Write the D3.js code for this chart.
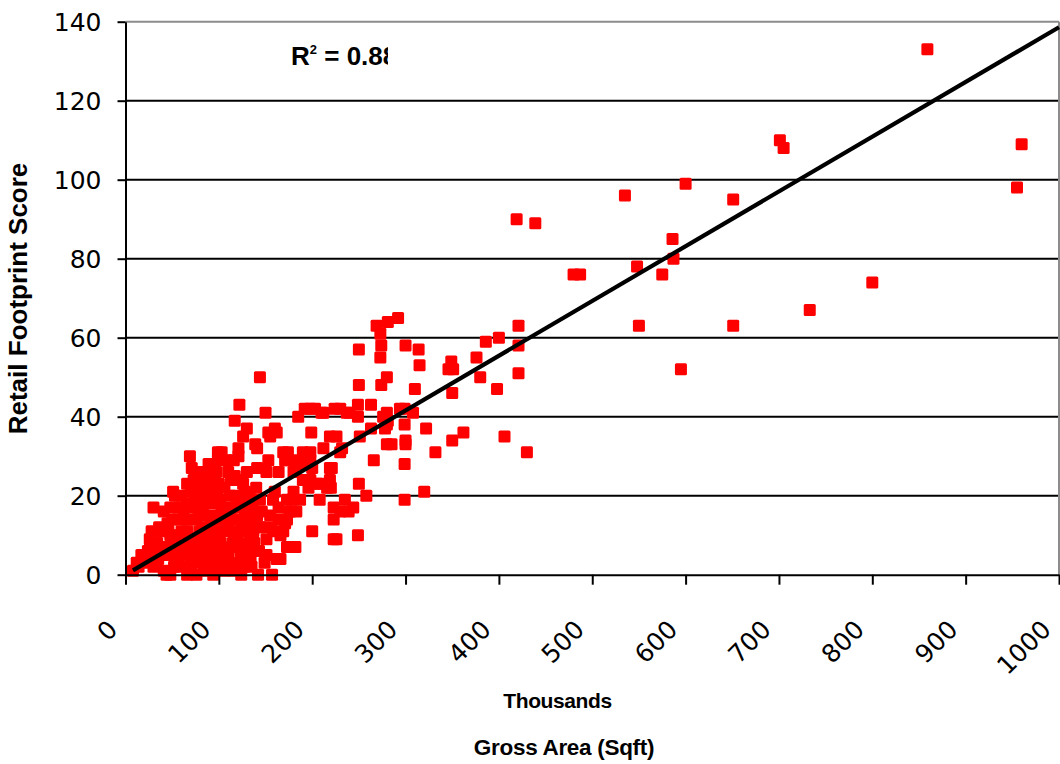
<!DOCTYPE html>
<html><head><meta charset="utf-8">
<script src="https://cdn.jsdelivr.net/npm/d3@7"></script>
<style>body{margin:0;background:#fff}</style>
</head><body>
<svg id="chart" width="1060" height="764"></svg>
<script>
// Gross area (thousands of sqft) and retail footprint score
const grossAreaK = [
  859,960,955,701,705,600,535,651,419,439,
  586,587,548,575,480,487,800,733,550,651,
  595,421,421,421,430,406,398,386,400,376,
  380,349,346,351,350,362,350,320,332,322,
  315,314,300,310,299,308,299,300,300,299,
  299,280,280,281,280,285,294,276,278,280,
  274,273,274,273,269,281,292,250,250,
  198,192,212,230,240,249,249,263,237,203,
  210,224,185,199,226,219,251,263,232,230,
  198,212,190,169,174,221,219,200,187,174,
  183,198,266,250,258,220,216,205,198,196,
  208,190,180,164,151,180,160,219,244,208,
  223,230,235,239,223,200,223,226,249,176,
  182,173,162,142,157,149,116,137,123,130,
  151,166,
  144,122,117,150,130,126,153,160,162,155,
  139,103,121,116,141,171,153,141,117,123,
  140,103,123,130,144,158,164,173,164,171,
  176,178,183,187,173,169,166,107,117,114,
  105,144,151,137,158,155,128,141,146,135,
  112,121,
  99,99,69,71,73,89,92,108,110,51,
  30,41,36,62,66,80,80,87,98,101,
  105,66,75,87,101,51,51,24,17,8,
  30,41,48,66,76,87,94,105,62,73,
  83,94,101,55,76,87,98,76,87,98,
  83,94,53,19,44,30,
  45,55,58,68,70,78,82,85,90,92,
  95,100,102,108,110,112,115,118,120,125,
  127,128,132,134,60,64,70,72,79,81,
  88,91,96,106,113,119,124,131,57,48,
  43,35,26,22,14,12,40,
  52,70,84,112,135, 40,58,91,110,128,
  34,56,68,92,115,138, 28,46,60,79,95,127,
  50,64,93,106,122, 48,70,77,110,136,
  60,75,96,118,133, 66,84,100,126,
  82,97,130, 145,156, 143, 100,118
];
const footprintScore = [
  133,109,98,110,108,99,96,95,90,89,
  85,80,78,76,76,76,74,67,63,63,
  52,63,58,51,31,35,47,59,60,55,
  50,54,52,52,46,36,34,21,31,37,
  53,57,58,47,42,41,38,34,33,28,
  19,41,38,39,33,33,42,40,37,50,
  48,55,58,61,63,64,65,57,48,
  42,42,41,42,41,43,40,43,41,42,
  41,42,40,36,35,35,35,37,32,31,
  31,32,31,31,31,27,27,27,28,29,
  29,29,29,23,20,22,22,23,24,22,
  23,24,26,26,26,21,21,24,17,19,
  17,16,19,16,14,11,9,9,10,7,
  7,7,4,0,0,3,1,7,6,5,
  5,4,
  50,43,39,41,37,35,36,37,36,35,
  33,31,32,29,32,29,29,27,25,24,
  22,17,19,17,19,19,17,19,14,13,
  16,19,16,19,14,11,10,11,11,7,
  5,12,9,11,11,15,16,15,16,13,
  16,30,
  31,29,30,27,24,28,25,29,26,21,
  17,16,12,16,18,19,22,21,21,19,
  16,11,9,10,11,9,5,6,5,1,
  2,1,0,0,0,1,0,1,6,6,
  5,7,6,3,3,3,4,14,15,15,
  17,18,20,5,0,7,
  13,14,10,14,21,25,12,7,12,4,
  10,14,8,3,13,20,14,3,9,13,
  2,21,8,4,2,8,4,18,16,8,
  19,23,2,22,24,17,0,14,17,10,
  7,4,9,3,2,3,11,
  2,2,2,2,2, 5,5,5,5,5,
  8,8,8,8,8,8, 11,11,11,11,11,11,
  14,14,14,14,14, 17,17,17,17,17,
  20,20,20,20,20, 23,23,23,23,
  26,26,26, 12,12, 6, 3,3
];
const xTicks = [0,100,200,300,400,500,600,700,800,900,1000];
const yTicks = [0,20,40,60,80,100,120,140];
const trendX = [8, 1000];
const trendY = [1.1, 138.6];
const rSquaredText = " = 0.88";
const xTitle1 = "Thousands";
const xTitle2 = "Gross Area (Sqft)";
const yTitle = "Retail Footprint Score";

const svg = d3.select("#chart");
const x = d3.scaleLinear().domain([0, 1000]).range([125.5, 1059]);
const y = d3.scaleLinear().domain([0, 140]).range([574.7, 21.7]);

// gridlines
svg.append("g").selectAll("line").data(yTicks.filter(d => d > 0 && d < 140)).join("line")
  .attr("x1", x(0)).attr("x2", x(1000))
  .attr("y1", d => y(d)).attr("y2", d => y(d))
  .attr("stroke", "#000").attr("stroke-width", 2);

// plot border top/right (gray)
svg.append("line").attr("x1", x(0)).attr("x2", x(1000)).attr("y1", y(140)).attr("y2", y(140))
  .attr("stroke", "#8c8c8c").attr("stroke-width", 2);
svg.append("line").attr("x1", x(1000)).attr("x2", x(1000)).attr("y1", y(140)).attr("y2", y(0))
  .attr("stroke", "#8c8c8c").attr("stroke-width", 2);

// points
const pts = grossAreaK.map((g, i) => ({g, s: footprintScore[i]}));
svg.append("g").selectAll("rect").data(pts).join("rect")
  .attr("x", d => x(d.g) - 6).attr("y", d => y(d.s) - 6)
  .attr("width", 12).attr("height", 12).attr("rx", 1.5)
  .attr("fill", "#ff0000");

// trend line
svg.append("line")
  .attr("x1", x(trendX[0])).attr("y1", y(trendY[0]))
  .attr("x2", x(trendX[1])).attr("y2", y(trendY[1]))
  .attr("stroke", "#000").attr("stroke-width", 4.2);

// axes
const yAxis = d3.axisLeft(y).tickValues(yTicks).tickSize(8).tickPadding(16).tickSizeOuter(0);
const gy = svg.append("g").attr("transform", `translate(${x(0)},0)`).call(yAxis);
gy.select(".domain").attr("stroke", "#000").attr("stroke-width", 2);
gy.selectAll(".tick line").attr("stroke", "#000").attr("stroke-width", 2);
gy.selectAll(".tick text").attr("font-family", "DejaVu Sans, Verdana, sans-serif")
  .attr("font-size", 25).attr("fill", "#000").attr("dy", "0.37em");

const xAxis = d3.axisBottom(x).tickValues(xTicks).tickFormat(d3.format("d")).tickSize(10).tickSizeOuter(0);
const gx = svg.append("g").attr("transform", `translate(0,${y(0)})`).call(xAxis);
gx.select(".domain").attr("stroke", "#000").attr("stroke-width", 2);
gx.selectAll(".tick line").attr("stroke", "#000").attr("stroke-width", 2);
gx.selectAll(".tick text")
  .attr("font-family", "DejaVu Sans, Verdana, sans-serif").attr("font-size", 25).attr("fill", "#000")
  .attr("text-anchor", "end").attr("y", 0).attr("dy", 0)
  .attr("transform", `translate(-7,${631 - y(0)}) rotate(-45)`);

// R-squared label, clipped by its box
svg.append("clipPath").attr("id", "rclip").append("rect")
  .attr("x", 0).attr("y", 0).attr("width", 388).attr("height", 120);
const rt = svg.append("text").attr("clip-path", "url(#rclip)")
  .attr("x", 291).attr("y", 65)
  .attr("font-family", "Liberation Sans, Arial, sans-serif").attr("font-weight", "bold")
  .attr("font-size", 26).attr("fill", "#000");
rt.append("tspan").text("R");
rt.append("tspan").attr("font-size", 13).attr("dy", -11).text("2");
rt.append("tspan").attr("dy", 11).text(rSquaredText);

// axis titles
svg.append("text").attr("x", 557.5).attr("y", 708).attr("text-anchor", "middle")
  .attr("font-family", "Liberation Sans, Arial, sans-serif").attr("font-weight", "bold")
  .attr("font-size", 21).attr("letter-spacing", -0.4).text(xTitle1);
svg.append("text").attr("x", 564).attr("y", 755).attr("text-anchor", "middle")
  .attr("font-family", "Liberation Sans, Arial, sans-serif").attr("font-weight", "bold")
  .attr("font-size", 22.5).attr("letter-spacing", -0.3).text(xTitle2);
svg.append("text").attr("transform", "translate(27,298.5) rotate(-90)").attr("text-anchor", "middle")
  .attr("font-family", "Liberation Sans, Arial, sans-serif").attr("font-weight", "bold")
  .attr("font-size", 26).text(yTitle);
</script>
</body></html>
